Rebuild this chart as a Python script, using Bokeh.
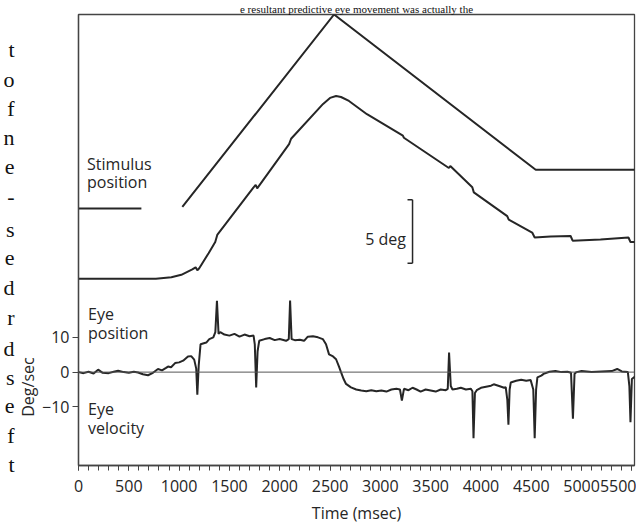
from bokeh.plotting import figure
from bokeh.models import Range1d, FixedTicker, SingleIntervalTicker, Span, Label, LinearAxis
from bokeh.embed import file_html
from bokeh.resources import INLINE

# ---------------- data ----------------
# time axis (msec)
x_ticks_interval = 500

# Stimulus position (deg, arbitrary offset)
stim_on_t = [0, 625]
stim_on_p = [20.21, 20.21]
stim_ramp_t = [1032, 2540, 4544, 5585]
stim_ramp_p = [20.34, 35.47, 23.26, 23.26]

# Eye position (deg, arbitrary offset)
eye_pos_t = [0, 769, 923, 1022, 1131, 1164, 1181, 1200, 1293, 1359, 1379, 1736, 1761,
             1776, 2093, 2113, 2431, 2500, 2560, 2609, 2688, 2867, 3224, 3234, 3681,
             3695, 3914, 3929, 4261, 4276, 4509, 4534, 4692, 4891, 4911, 5188, 5466,
             5486, 5585]
eye_pos_p = [14.69, 14.69, 14.80, 15.00, 15.43, 15.59, 15.35, 15.51, 16.70, 17.58, 18.13,
             21.84, 22.07, 21.80, 25.27, 25.70, 28.44, 28.91, 29.06, 28.98, 28.67, 27.63,
             25.94, 25.78, 23.40, 23.55, 21.88, 21.48, 19.61, 19.34, 18.32, 17.93, 18.01,
             18.05, 17.68, 17.77, 17.93, 17.58, 17.58]

# Eye velocity (deg/sec)
eye_vel_t = [0, 50, 100, 150, 195, 240, 300, 350, 394, 450, 500, 550, 592, 640, 691, 740,
             790, 830, 870, 890, 920, 960, 1000, 1040, 1088, 1120, 1150, 1170, 1181, 1195,
             1213, 1270, 1300, 1340, 1360, 1376, 1392, 1409, 1450, 1500, 1550, 1600, 1650,
             1700, 1740, 1752, 1766, 1780, 1796, 1850, 1900, 1950, 2000, 2063, 2090, 2103,
             2118, 2150, 2200, 2242, 2279, 2330, 2380, 2428, 2460, 2490, 2530, 2560, 2590,
             2609, 2635, 2659, 2708, 2760, 2810, 2860, 2910, 2960, 3010, 3060, 3110, 3160,
             3195, 3214, 3235, 3280, 3320, 3360, 3400, 3450, 3500, 3550, 3600, 3650, 3670,
             3683, 3700, 3717, 3760, 3800, 3850, 3900, 3915, 3926, 3940, 3958, 4000, 4050,
             4100, 4127, 4180, 4230, 4246, 4262, 4273, 4285, 4296, 4350, 4400, 4450, 4494,
             4520, 4534, 4548, 4561, 4600, 4623, 4680, 4740, 4800, 4860, 4895, 4914, 4930,
             4950, 5000, 5100, 5200, 5300, 5354, 5400, 5460, 5475, 5486, 5500, 5585]
eye_vel_v = [0.0, -0.3, 0.1, -0.4, 0.7, -0.2, -0.3, 0.1, 0.4, 0.0, -0.2, 0.1, -0.1, -0.6,
             -0.9, -0.2, 0.9, 0.5, 1.2, 1.6, 1.4, 2.6, 2.8, 3.3, 4.5, 4.6, 3.6, 1.0, -6.5,
             2.0, 8.0, 8.5, 9.5, 10.0, 11.5, 20.5, 11.0, 11.5, 10.8, 10.5, 11.0, 10.2, 10.8,
             10.3, 10.5, 8.0, -4.4, 6.0, 9.0, 9.5, 9.8, 9.2, 9.5, 9.0, 9.5, 20.6, 9.5, 9.2,
             9.3, 9.0, 10.2, 10.3, 10.0, 9.5, 8.0, 5.1, 4.5, 3.7, 1.5, 0.0, -2.0, -3.4, -4.4,
             -5.0, -5.3, -5.5, -5.2, -5.5, -5.3, -5.6, -5.0, -4.8, -5.0, -8.2, -4.8, -5.2,
             -4.5, -5.0, -5.6, -5.0, -5.3, -5.6, -5.0, -5.2, -4.8, 5.6, -4.0, -5.0, -4.8,
             -4.5, -5.0, -4.8, -5.5, -19.0, -6.0, -5.2, -4.5, -4.2, -3.9, -3.5, -4.0, -4.5,
             -4.3, -8.0, -15.1, -5.0, -3.0, -2.5, -2.2, -2.5, -2.3, -5.0, -19.0, -5.0, -1.5,
             -1.0, -0.5, 0.1, 0.3, 0.0, 0.1, -0.2, -13.4, -0.5, 0.0, 0.3, 0.0, 0.2, 0.3, 0.9,
             0.2, 0.0, -4.0, -14.4, -2.0, 0.0]

# y tick values of velocity axis
vel_ticks = [-10, 0, 10]

# 5 deg scale bar
bar_t = 3320
bar_tick_t = 3270
bar_p = [15.91, 20.91]

# book text around the figure (scan): line-end letters in the left margin and
# the last line of text above the figure
margin_letters = ["t", "o", "f", "n", "e", "-", "s", "e", "d", "r", "d", "s", "e", "f", "t"]
margin_rows = [48, 78, 108, 137, 166, 196, 229, 258, 288, 318, 349, 378, 407, 437, 466]
top_line = "e resultant predictive eye movement was actually the"

# row (page px) where the velocity axis title is anchored
deg_label_row = 388

# ---------------- figure ----------------
FONT = "Open Sans"
SERIF = "Liberation Serif"
INK = "#262626"
FRAME = "#444444"

p = figure(width=636, height=526, output_backend="svg", toolbar_location=None,
           x_range=Range1d(0, 5526), y_range=Range1d(-26.86, 102.86),
           min_border_left=77, min_border_right=2, min_border_top=13, min_border_bottom=59,
           background_fill_color="white", border_fill_color="white")
p.extra_y_ranges = {"pos": Range1d(0, 35.47), "page": Range1d(467, 13)}
p.grid.visible = False
p.outline_line_color = FRAME
p.outline_line_width = 1.3

# page text line above the figure
p.title.text = top_line
p.title.text_font = SERIF
p.title.text_font_size = "11px"
p.title.text_font_style = "normal"
p.title.text_color = "#111111"
p.title.align = "center"
p.title.standoff = 0
p.title.offset = 0

# x axis
xa = p.xaxis[0]
xa.ticker = SingleIntervalTicker(interval=x_ticks_interval, num_minor_ticks=5)
xa.axis_label = "Time (msec)"
xa.axis_label_text_font = FONT
xa.axis_label_text_font_size = "16px"
xa.axis_label_text_font_style = "normal"
xa.axis_label_text_color = INK
xa.axis_label_standoff = 7
xa.major_label_text_font = FONT
xa.major_label_text_font_size = "16px"
xa.major_label_text_color = INK
xa.major_label_standoff = 9
xa.major_tick_in = 0
xa.major_tick_out = 5
xa.minor_tick_in = 0
xa.minor_tick_out = 5
xa.axis_line_color = FRAME
xa.axis_line_width = 1.3
xa.major_tick_line_color = FRAME
xa.minor_tick_line_color = FRAME

# y axis (velocity)
ya = p.yaxis[0]
ya.ticker = FixedTicker(ticks=vel_ticks)
ya.major_label_text_font = FONT
ya.major_label_text_font_size = "16px"
ya.major_label_text_color = INK
ya.major_label_standoff = 3
ya.major_tick_in = 0
ya.major_tick_out = 6
ya.minor_tick_line_color = None
ya.axis_line_color = FRAME
ya.axis_line_width = 1.3
ya.major_tick_line_color = FRAME
ya.major_label_overrides = {-10: "\u221210", 0: "0", 10: "10"}

# velocity axis title, centred on the velocity trace
deg_axis = LinearAxis(y_range_name="page", ticker=FixedTicker(ticks=[deg_label_row]),
                      major_label_overrides={deg_label_row: "Deg/sec"},
                      major_label_orientation="vertical",
                      axis_line_color=None, major_tick_line_color=None,
                      minor_tick_line_color=None, major_tick_in=0, major_tick_out=0,
                      major_label_standoff=0, major_label_text_font=FONT,
                      major_label_text_font_size="16px", major_label_text_color=INK)
p.add_layout(deg_axis, "left")

# left-margin book letters (outer axis, text only)
page_axis = LinearAxis(y_range_name="page", ticker=FixedTicker(ticks=margin_rows),
                       major_label_overrides={r: s for r, s in zip(margin_rows, margin_letters)},
                       axis_line_color=None, major_tick_line_color=None,
                       minor_tick_line_color=None, major_tick_in=0, major_tick_out=0,
                       major_label_standoff=0, major_label_text_font=SERIF,
                       major_label_text_font_size="22px", major_label_text_color="#111111")
p.add_layout(page_axis, "left")

# zero line of velocity
p.add_layout(Span(location=0, dimension="width", line_color="#555555", line_width=1))

# traces
p.line(stim_on_t, stim_on_p, y_range_name="pos", line_color=INK, line_width=2)
p.line(stim_ramp_t, stim_ramp_p, y_range_name="pos", line_color=INK, line_width=2)
p.line(eye_pos_t, eye_pos_p, y_range_name="pos", line_color=INK, line_width=2)
p.line(eye_vel_t, eye_vel_v, line_color=INK, line_width=2)

# scale bar
p.multi_line([[bar_t, bar_t], [bar_tick_t, bar_t], [bar_tick_t, bar_t]],
             [[bar_p[0], bar_p[1]], [bar_p[0], bar_p[0]], [bar_p[1], bar_p[1]]],
             y_range_name="pos", line_color=INK, line_width=1.5)
p.add_layout(Label(x=3254, y=17.79, y_range_name="pos", text="5 deg", text_align="right",
                   text_baseline="alphabetic", text_font=FONT,
                   text_font_size="16px", text_color=INK))

# trace labels
def lab(x, y, t):
    p.add_layout(Label(x=x, y=y, text=t, text_font=FONT, text_font_size="16px",
                       text_color=INK, text_baseline="alphabetic", text_align="left"))

lab(85, 60.0, "Stimulus")
lab(85, 54.6, "position")
lab(95, 16.6, "Eye")
lab(95, 11.2, "position")
lab(95, -10.6, "Eye")
lab(95, -16.1, "velocity")

open("out.html", "w").write(file_html(p, INLINE))
